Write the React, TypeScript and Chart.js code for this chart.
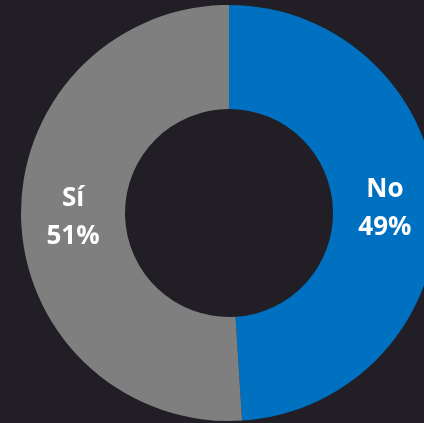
import React, { useEffect, useRef } from "react";
import { Chart, registerables } from "chart.js";

Chart.register(...registerables);

const categories = ["No", "Sí"];
const values = [49, 51];
const percentLabels = ["49%", "51%"];
const colors = ["#0070C0", "#7F7F7F"];
const BG = "#221E25";

const labelPlugin = {
  id: "sliceLabels",
  afterDatasetsDraw(chart: any) {
    const ctx = chart.ctx;
    const meta = chart.getDatasetMeta(0);
    ctx.save();
    ctx.fillStyle = "#FFFFFF";
    ctx.font = "bold 26px 'Open Sans'";
    ctx.textAlign = "center";
    ctx.textBaseline = "middle";
    meta.data.forEach((arc: any, i: number) => {
      const p = arc.tooltipPosition();
      ctx.fillText(categories[i], p.x, p.y - 19);
      ctx.fillText(percentLabels[i], p.x, p.y + 19);
    });
    ctx.restore();
  },
};

export default function App() {
  const ref = useRef<HTMLCanvasElement | null>(null);
  useEffect(() => {
    document.body.style.background = BG;
    const chart = new Chart(ref.current as HTMLCanvasElement, {
      type: "doughnut",
      data: {
        labels: categories,
        datasets: [
          {
            data: values,
            backgroundColor: colors,
            borderWidth: 0,
          },
        ],
      },
      options: {
        responsive: false,
        animation: false,
        cutout: "50%",
        layout: { padding: 5 },
        plugins: {
          legend: { display: false },
          tooltip: { enabled: false },
        },
      },
      plugins: [labelPlugin],
    });
    return () => chart.destroy();
  }, []);
  return (
    <div
      style={{
        position: "fixed",
        left: 0,
        top: 0,
        width: 424,
        height: 423,
        overflow: "hidden",
        background: BG,
      }}
    >
      <canvas ref={ref} width={458} height={426} style={{ display: "block", width: 458, height: 426 }} />
    </div>
  );
}
